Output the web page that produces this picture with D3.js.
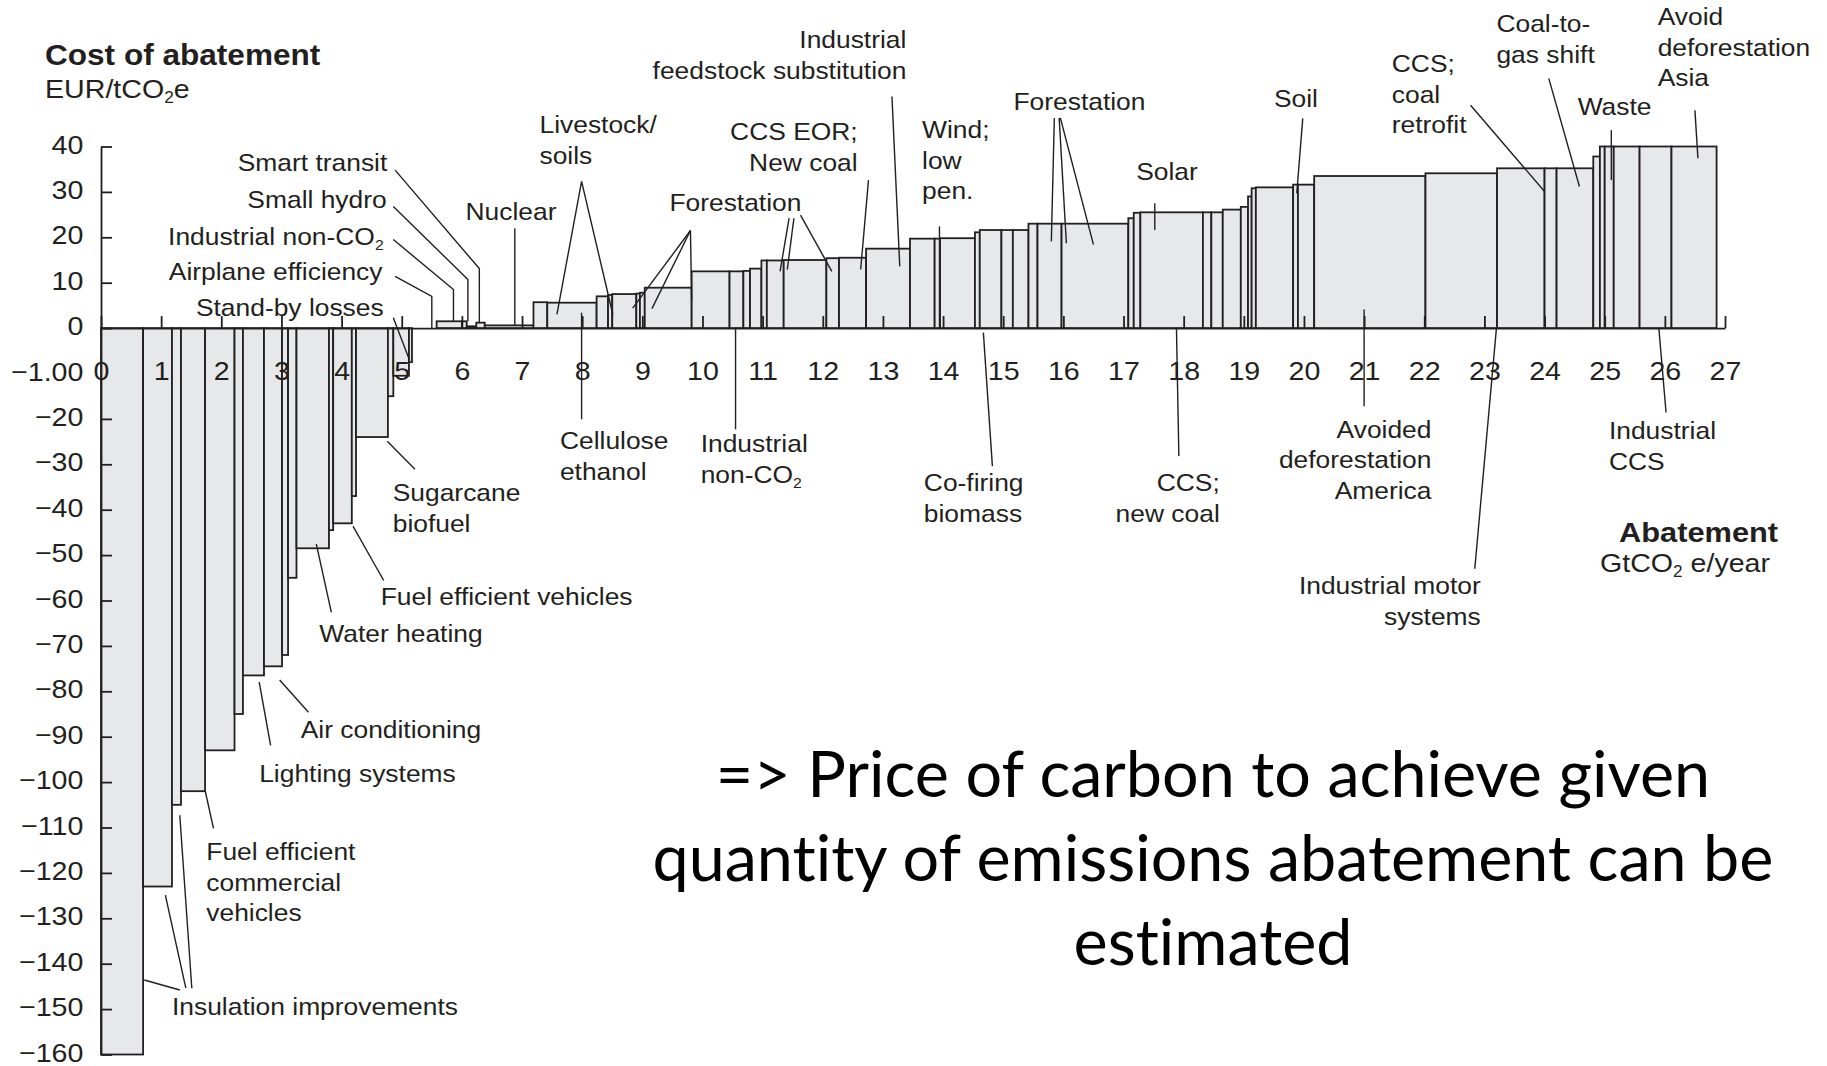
<!DOCTYPE html>
<html>
<head>
<meta charset="utf-8">
<script src="https://d3js.org/d3.v7.min.js"></script>
<style>
  body { margin: 0; background: #fff; }
  svg { display: block; }
  .note text { font-variant-ligatures: none; }
</style>
</head>
<body>
<div id="chart"></div>
<script>
// abatement of each lever (GtCO2e/year), in curve order
var widths = [0.70, 0.48, 0.15, 0.40, 0.49, 0.14, 0.35, 0.30, 0.10, 0.14, 0.54, 0.07, 0.31, 0.07, 0.53, 0.09, 0.26, 0.05,
  0.41, 0.42, 0.08, 0.16, 0.14, 0.81,
  0.23, 0.82, 0.19, 0.07, 0.40, 0.06, 0.08, 0.78, 0.63, 0.23, 0.11, 0.19, 0.09, 0.28, 0.71, 0.21, 0.45, 0.73,
  0.41, 0.09, 0.58, 0.08, 0.36, 0.19, 0.26, 0.15, 0.40, 1.11, 0.09, 0.11, 1.04, 0.14, 0.19, 0.30, 0.12, 0.06,
  0.07, 0.62, 0.08, 0.27, 1.85, 1.19, 0.79, 0.20, 0.61, 0.11, 0.08, 0.15, 0.43, 0.53, 0.75];
// cost of each lever (EUR/tCO2e)
var costs = [-160, -123, -105, -102, -93, -85, -76.5, -74.5, -72, -55, -48.5, -44.5, -43, -37, -24, -15, -10.5, -7.5,
  0, 1.5, 1.5, 0.4, 1.2, 0.6,
  5.7, 5.6, 7.0, 7.3, 7.5, 7.6, 7.8, 8.9, 12.5, 12.5, 12.6, 13.1, 14.9, 14.9, 15.0, 15.4, 15.5, 17.5,
  19.7, 19.7, 19.8, 21.1, 21.6, 21.6, 21.6, 23.0, 23.0, 23.0, 24.2, 25.4, 25.5, 25.5, 25.5, 26.1, 26.7, 29.0,
  30.8, 31.0, 31.6, 31.6, 33.5, 34.1, 35.2, 35.2, 35.2, 37.8, 40, 40, 40, 40, 40];

var xTicks = [0,1,2,3,4,5,6,7,8,9,10,11,12,13,14,15,16,17,18,19,20,21,22,23,24,25,26,27];
var yTicks = [40,30,20,10,0,-10,-20,-30,-40,-50,-60,-70,-80,-90,-100,-110,-120,-130,-140,-150,-160];

// callout labels, anchored in data units (abatement, cost)
var labels = [
  {text: ["Smart transit"], at: [4.76, 34.5], anchor: "end"},
  {text: ["Small hydro"], at: [4.75, 26.4], anchor: "end"},
  {text: ["Industrial non-CO₂"], at: [4.70, 18.4], anchor: "end"},
  {text: ["Airplane efficiency"], at: [4.68, 10.7], anchor: "end"},
  {text: ["Stand-by losses"], at: [4.70, 2.6], anchor: "end"},
  {text: ["Nuclear"], at: [6.06, 23.9]},
  {text: ["Livestock/", "soils"], at: [7.29, 42.9]},
  {text: ["Cellulose", "ethanol"], at: [7.63, -26.7]},
  {text: ["Forestation"], at: [9.45, 25.9]},
  {text: ["Industrial", "feedstock substitution"], at: [13.39, 61.6], anchor: "end"},
  {text: ["CCS EOR;", "New coal"], at: [12.58, 41.4], anchor: "end"},
  {text: ["Wind;", "low", "pen."], at: [13.65, 41.8]},
  {text: ["Forestation"], at: [15.17, 48.0]},
  {text: ["Solar"], at: [17.21, 32.6]},
  {text: ["Soil"], at: [19.5, 48.7]},
  {text: ["CCS;", "coal", "retrofit"], at: [21.46, 56.4]},
  {text: ["Coal-to-", "gas shift"], at: [23.2, 65.2]},
  {text: ["Waste"], at: [24.55, 46.9]},
  {text: ["Avoid", "deforestation", "Asia"], at: [25.88, 66.7]},
  {text: ["Co-firing", "biomass"], at: [13.68, -35.9]},
  {text: ["Industrial", "non-CO₂"], at: [9.97, -27.3]},
  {text: ["CCS;", "new coal"], at: [18.6, -35.9], anchor: "end"},
  {text: ["Avoided", "deforestation", "America"], at: [22.12, -24.1], anchor: "end"},
  {text: ["Industrial motor", "systems"], at: [22.94, -58.6], anchor: "end"},
  {text: ["Industrial", "CCS"], at: [25.07, -24.5]},
  {text: ["Sugarcane", "biofuel"], at: [4.85, -38.1]},
  {text: ["Fuel efficient vehicles"], at: [4.65, -61.0]},
  {text: ["Water heating"], at: [3.63, -69.1]},
  {text: ["Air conditioning"], at: [3.32, -90.3]},
  {text: ["Lighting systems"], at: [2.63, -100.0]},
  {text: ["Fuel efficient", "commercial", "vehicles"], at: [1.75, -117.2]},
  {text: ["Insulation improvements"], at: [1.18, -151.3]}
];

// leader lines, in data units
var leaders = [
  [[4.89, 34.8], [6.29, 13.1], [6.29, 1.2]],
  [[4.86, 26.8], [6.10, 10.7], [6.10, 1.5]],
  [[4.86, 19.5], [5.86, 8.5], [5.86, 1.5]],
  [[4.89, 11.4], [5.50, 7.0], [5.50, 0]],
  [[4.86, 2.3], [5.13, -7.1]],
  [[6.88, 22.0], [6.88, 0.6]],
  [[7.58, 3.0], [7.99, 32.3], [8.51, 3.0]],
  [[7.99, 3.4], [7.99, -20.1]],
  [[8.84, 4.4], [9.80, 21.5]],
  [[9.16, 4.3], [9.80, 21.5]],
  [[9.82, 6.0], [9.80, 21.5]],
  [[11.44, 24.2], [11.29, 12.5]],
  [[11.52, 24.2], [11.41, 12.9]],
  [[11.63, 24.9], [12.15, 12.5]],
  [[12.76, 32.6], [12.63, 12.9]],
  [[13.15, 51], [13.28, 13.6]],
  [[13.94, 22.4], [13.94, 0]],
  [[15.85, 46.3], [15.80, 19.1]],
  [[15.93, 46.3], [16.05, 18.7]],
  [[15.95, 46.3], [16.50, 18.4]],
  [[17.52, 27.5], [17.52, 21.6]],
  [[19.98, 46.2], [19.88, 29.7]],
  [[22.77, 49.1], [24.0, 30.1]],
  [[24.07, 55], [24.58, 31.2]],
  [[25.11, 43.6], [25.11, 32.6]],
  [[26.5, 48], [26.55, 37.4]],
  [[14.67, -1], [14.82, -30.4]],
  [[10.55, 0], [10.55, -22.3]],
  [[17.88, 0], [17.92, -28.2]],
  [[21.0, 4.1], [21.0, -17.2]],
  [[23.2, 0], [22.84, -53]],
  [[25.9, 0], [26.02, -18.6]],
  [[4.76, -24.9], [5.22, -31.1]],
  [[4.19, -43.6], [4.70, -55.6]],
  [[3.58, -47.6], [3.83, -62.6]],
  [[2.97, -77.5], [3.45, -84.6]],
  [[2.63, -78], [2.82, -91.9]],
  [[1.73, -101.8], [1.87, -110.2]],
  [[0.72, -143.6], [1.31, -145.8]],
  [[1.07, -124.9], [1.41, -145.4]],
  [[1.31, -107.3], [1.51, -145.4]]
];

var note = ["=> Price of carbon to achieve given", "quantity of emissions abatement can be", "estimated"];

var W = 1827, H = 1066;
var ink = "#231f20";
var svg = d3.select("#chart").append("svg").attr("width", W).attr("height", H);
svg.append("rect").attr("width", W).attr("height", H).attr("fill", "#fff");

var x = d3.scaleLinear().domain([0, 27]).range([101, 1725]);
var y = d3.scaleLinear().domain([-160, 40]).range([1054.5, 146.5]);

// stretched helvetica look
function addText(parent, str, px, py, opt) {
  opt = opt || {};
  var size = opt.size || 24;
  var t = parent.append("text")
    .attr("transform", "translate(" + px + "," + py + ") scale(1.1,1)")
    .attr("text-anchor", opt.anchor || "start")
    .attr("font-family", "'Liberation Sans', Arial, sans-serif")
    .attr("font-size", size)
    .attr("font-weight", opt.weight || "normal")
    .attr("fill", ink);
  str.split("₂").forEach(function(p, i) {
    if (i > 0) t.append("tspan").attr("dy", 5).attr("font-size", size * 0.6).text("2");
    t.append("tspan").attr("dy", i > 0 ? -5 : 0).text(p);
  });
  return t;
}

// bars
var start = 0;
var bars = widths.map(function(w, i) {
  var b = {x0: start, x1: start + w, v: costs[i]};
  start += w;
  return b;
});
svg.append("g").selectAll("rect").data(bars).enter().append("rect")
  .attr("x", function(d) { return x(d.x0); })
  .attr("width", function(d) { return x(d.x1) - x(d.x0); })
  .attr("y", function(d) { return y(Math.max(0, d.v)); })
  .attr("height", function(d) { return Math.abs(y(d.v) - y(0)); })
  .attr("fill", "#e7e8e9")
  .attr("stroke", ink)
  .attr("stroke-width", 1.8);

// axes
var yAxis = svg.append("g").attr("transform", "translate(" + x(0) + ",0)")
  .call(d3.axisLeft(y).tickValues(yTicks).tickSizeInner(-11).tickSizeOuter(0).tickPadding(16)
    .tickFormat(function(d) { return d === -10 ? "\u22121.00" : (d < 0 ? "\u2212" + Math.abs(d) : d); }));
yAxis.selectAll(".tick").filter(function(d) { return d === -10; }).select("line").remove();
yAxis.selectAll("text").attr("dy", "0.25em");

var xAxis = svg.append("g").attr("transform", "translate(0," + y(0) + ")")
  .call(d3.axisBottom(x).tickValues(xTicks).tickSizeInner(-12).tickSizeOuter(0).tickPadding(33));

[xAxis, yAxis].forEach(function(a) {
  a.attr("font-family", "'Liberation Sans', Arial, sans-serif").attr("font-size", 26);
  a.selectAll("path, line").attr("stroke", ink).attr("stroke-width", 1.8);
  a.selectAll("text").attr("fill", ink).attr("transform", "scale(1.1,1)");
});

// leader lines
var line = d3.line().x(function(d) { return x(d[0]); }).y(function(d) { return y(d[1]); });
svg.append("g").selectAll("path").data(leaders).enter().append("path")
  .attr("d", line)
  .attr("fill", "none")
  .attr("stroke", ink)
  .attr("stroke-width", 1.4);

// callouts
var lg = svg.append("g");
labels.forEach(function(l) {
  l.text.forEach(function(s, i) {
    addText(lg, s, x(l.at[0]), y(l.at[1]) + i * 30.5, {anchor: l.anchor});
  });
});

// axis titles
addText(svg, "Cost of abatement", 45, 65, {size: 28.7, weight: "bold"});
addText(svg, "EUR/tCO₂e", 45, 98, {size: 26});
addText(svg, "Abatement", 1619, 542, {size: 28, weight: "bold"});
addText(svg, "GtCO₂ e/year", 1600, 572, {size: 26});

// slide note
var ng = svg.append("g").attr("class", "note").attr("font-family", "Lato, 'Open Sans', sans-serif").attr("fill", "#000").attr("text-anchor", "middle");
var noteText = note.map(function(s, i) {
  return ng.append("text").attr("x", 1213).attr("y", 797 + i * 84).attr("font-size", 57).text(s);
});
var fit = 57 * 1121 / noteText[1].node().getComputedTextLength();
noteText.forEach(function(t) { t.attr("font-size", fit); });
</script>
</body>
</html>
